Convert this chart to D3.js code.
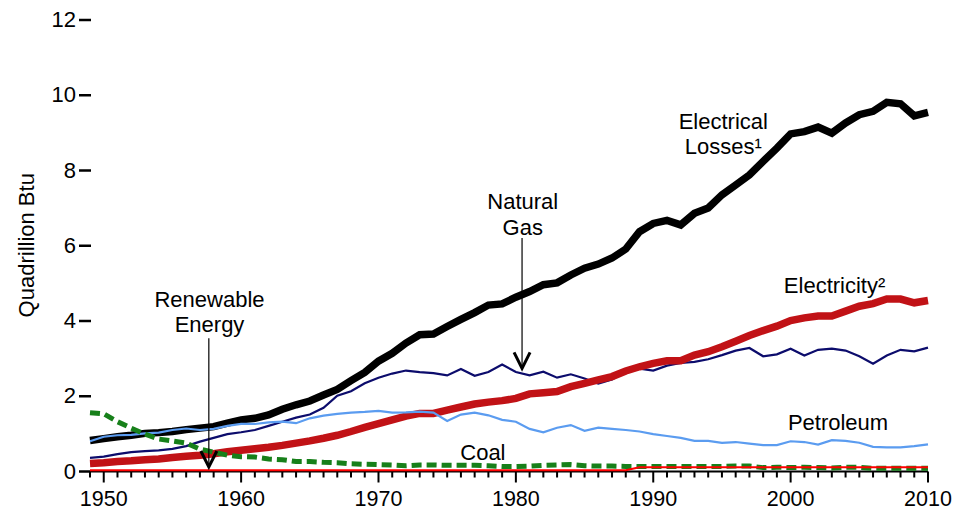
<!DOCTYPE html>
<html lang="en">
<head>
  <meta charset="UTF-8">
  <title>Commercial Sector Energy Consumption</title>
  <style>
    body {
      margin: 0;
      background: #fff;
      font-family: "Liberation Sans", Arial, sans-serif;
    }
    #chart svg {
      display: block;
    }
  </style>
</head>
<body>
  <div id="chart"></div>

  <script src="https://d3js.org/d3.v7.min.js"></script>
  <script>
    // Years 1949-2010
    const years = d3.range(1949, 2011);

    // Quadrillion Btu
    const electricalLosses = [
      0.81, 0.86, 0.91, 0.95, 1.00, 1.02, 1.05, 1.10, 1.14, 1.18,
      1.27, 1.36, 1.40, 1.49, 1.64, 1.76, 1.86, 2.02, 2.17, 2.40,
      2.62, 2.92, 3.13, 3.40, 3.62, 3.64, 3.84, 4.03, 4.21, 4.41,
      4.44, 4.62, 4.77, 4.95, 5.00, 5.21, 5.39, 5.50, 5.66, 5.90,
      6.36, 6.58, 6.66, 6.54, 6.85, 6.99, 7.34, 7.60, 7.87, 8.23,
      8.58, 8.96, 9.02, 9.14, 8.98, 9.25, 9.47, 9.56, 9.80, 9.76,
      9.44, 9.53
    ];
    const electricity = [
      0.20, 0.22, 0.25, 0.27, 0.30, 0.32, 0.36, 0.39, 0.42, 0.46,
      0.51, 0.55, 0.59, 0.63, 0.68, 0.74, 0.80, 0.87, 0.95, 1.05,
      1.16, 1.26, 1.36, 1.46, 1.53, 1.53, 1.62, 1.70, 1.78, 1.83,
      1.87, 1.93, 2.05, 2.08, 2.11, 2.24, 2.33, 2.42, 2.51, 2.66,
      2.77, 2.86, 2.93, 2.93, 3.08, 3.17, 3.30, 3.45, 3.60, 3.73,
      3.85, 4.00, 4.07, 4.12, 4.12, 4.25, 4.38, 4.45, 4.57, 4.57,
      4.47, 4.53
    ];
    const naturalGas = [
      0.35, 0.38, 0.45, 0.50, 0.53, 0.55, 0.59, 0.66, 0.78, 0.88,
      0.98, 1.03, 1.09, 1.20, 1.31, 1.42, 1.50, 1.68, 2.00, 2.12,
      2.33, 2.48, 2.59, 2.67, 2.63, 2.60, 2.54, 2.71, 2.53, 2.63,
      2.83, 2.63, 2.54, 2.64, 2.48, 2.57, 2.46, 2.32, 2.43, 2.65,
      2.72, 2.67, 2.80, 2.87, 2.90, 2.97, 3.08, 3.20, 3.27, 3.05,
      3.10, 3.25, 3.07, 3.22, 3.25, 3.20, 3.05, 2.85, 3.07, 3.22,
      3.18, 3.28
    ];
    const petroleum = [
      0.79, 0.91, 0.95, 0.96, 1.00, 1.02, 1.09, 1.13, 1.09, 1.12,
      1.20, 1.25, 1.25, 1.29, 1.31, 1.27, 1.40, 1.47, 1.52, 1.55,
      1.57, 1.60, 1.55, 1.56, 1.58, 1.55, 1.33, 1.50, 1.55, 1.48,
      1.36, 1.31, 1.12, 1.03, 1.15, 1.22, 1.07, 1.15, 1.12, 1.09,
      1.05, 0.98, 0.93, 0.88, 0.80, 0.80, 0.75, 0.77, 0.73, 0.69,
      0.69, 0.79, 0.77, 0.70, 0.82, 0.80, 0.75, 0.64, 0.63, 0.63,
      0.66, 0.71
    ];
    const coal = [
      1.55, 1.52, 1.31, 1.14, 0.98, 0.85, 0.80, 0.74, 0.58, 0.50,
      0.42, 0.38, 0.37, 0.32, 0.30, 0.25, 0.25, 0.23, 0.22, 0.19,
      0.18, 0.17, 0.16, 0.14, 0.16, 0.16, 0.15, 0.15, 0.15, 0.14,
      0.12, 0.12, 0.13, 0.15, 0.16, 0.17, 0.14, 0.13, 0.13, 0.12,
      0.12, 0.12, 0.12, 0.12, 0.12, 0.12, 0.12, 0.13, 0.13, 0.09,
      0.10, 0.09, 0.10, 0.09, 0.08, 0.10, 0.10, 0.07, 0.07, 0.07,
      0.07, 0.07
    ];
    const renewable = [
      0.02, 0.02, 0.02, 0.02, 0.02, 0.02, 0.02, 0.02, 0.02, 0.02,
      0.02, 0.02, 0.02, 0.02, 0.02, 0.02, 0.02, 0.02, 0.02, 0.02,
      0.02, 0.02, 0.02, 0.02, 0.02, 0.02, 0.02, 0.02, 0.02, 0.02,
      0.02, 0.02, 0.02, 0.02, 0.02, 0.02, 0.02, 0.02, 0.02, 0.02,
      0.10, 0.10, 0.10, 0.10, 0.10, 0.10, 0.10, 0.10, 0.10, 0.10,
      0.10, 0.10, 0.10, 0.10, 0.10, 0.10, 0.10, 0.10, 0.10, 0.10,
      0.10, 0.10
    ];

    const yTicks = [0, 2, 4, 6, 8, 10, 12];
    const xMajorTicks = [1950, 1960, 1970, 1980, 1990, 2000, 2010];

    // Label text; position given in data units (year, value)
    const labels = [
      { lines: ['Renewable', 'Energy'], year: 1957.7, value: 4.36 },
      { lines: ['Natural', 'Gas'], year: 1980.5, value: 6.96 },
      { lines: ['Electrical', 'Losses\u00b9'], year: 1995.1, value: 9.1 },
      { lines: ['Electricity\u00b2'], year: 2003.2, value: 4.72 },
      { lines: ['Petroleum'], year: 2003.45, value: 1.09 },
      { lines: ['Coal'], year: 1977.6, value: 0.29 }
    ];
    const arrows = [
      { year: 1957.65, from: 3.53, to: 0.08 },
      { year: 1980.45, from: 6.19, to: 2.7 }
    ];

    const width = 959;
    const height = 511;
    const margin = { top: 19.5, right: 31, bottom: 40, left: 90 };

    const svg = d3.select('#chart')
      .append('svg')
      .attr('width', width)
      .attr('height', height);

    const x = d3.scaleLinear()
      .domain([1949, 2010])
      .range([margin.left, width - margin.right]);

    const y = d3.scaleLinear()
      .domain([0, 12])
      .range([height - margin.bottom, margin.top]);

    const fontSize = 22;

    // y axis: dash ticks, no line
    const yAxis = svg.append('g')
      .attr('transform', `translate(${margin.left + 1}, 0)`)
      .call(d3.axisLeft(y).tickValues(yTicks).tickSize(12).tickPadding(3))
      .call(g => g.select('.domain').remove());
    yAxis.selectAll('.tick line')
      .attr('stroke', '#000')
      .attr('stroke-width', 2.5);
    yAxis.selectAll('.tick text')
      .attr('font-family', '"Liberation Sans", Arial, sans-serif')
      .attr('font-size', fontSize)
      .attr('fill', '#000');

    // x axis: minor ticks each year, longer at decades
    const xAxis = svg.append('g')
      .attr('transform', `translate(0, ${y(0) + 0.5})`);
    xAxis.append('line')
      .attr('x1', x(1949))
      .attr('x2', x(2010))
      .attr('stroke', '#000')
      .attr('stroke-width', 2);
    xAxis.selectAll('line.tick')
      .data(years)
      .join('line')
      .attr('class', 'tick')
      .attr('x1', d => x(d))
      .attr('x2', d => x(d))
      .attr('y1', 0)
      .attr('y2', d => xMajorTicks.includes(d) ? 11 : 6)
      .attr('stroke', '#000')
      .attr('stroke-width', 2);
    xAxis.selectAll('text')
      .data(xMajorTicks)
      .join('text')
      .attr('x', d => x(d))
      .attr('y', 34.5)
      .attr('text-anchor', 'middle')
      .attr('font-size', 21.5)
      .text(d => d);

    // y axis title
    svg.append('text')
      .attr('transform', `translate(34, ${y(6)}) rotate(-90)`)
      .attr('text-anchor', 'middle')
      .attr('font-size', fontSize)
      .text('Quadrillion Btu');

    const line = d3.line()
      .x((d, i) => x(years[i]))
      .y(d => y(d));

    const series = [
      { values: electricalLosses, color: '#000000', width: 7.5 },
      { values: naturalGas, color: '#0c0c6c', width: 2.2 },
      { values: electricity, color: '#c11216', width: 7.5 },
      { values: petroleum, color: '#5b9cf0', width: 2.2 },
      { values: coal, color: '#17801a', width: 5, dash: '10,5' },
      { values: renewable, color: '#ff0000', width: 2 }
    ];

    svg.selectAll('path.series')
      .data(series)
      .join('path')
      .attr('class', 'series')
      .attr('fill', 'none')
      .attr('stroke', d => d.color)
      .attr('stroke-width', d => d.width)
      .attr('stroke-dasharray', d => d.dash || null)
      .attr('stroke-linejoin', 'miter')
      .attr('d', d => line(d.values));

    // labels
    labels.forEach(l => {
      const t = svg.append('text')
        .attr('text-anchor', 'middle')
        .attr('font-size', fontSize)
        .attr('fill', '#000');
      l.lines.forEach((s, i) => {
        t.append('tspan')
          .attr('x', x(l.year))
          .attr('y', y(l.value) + i * 25.5)
          .text(s);
      });
    });

    // arrows with open chevron heads
    arrows.forEach(a => {
      const ax = x(a.year);
      svg.append('line')
        .attr('x1', ax)
        .attr('x2', ax)
        .attr('y1', y(a.from))
        .attr('y2', y(a.to) - 2)
        .attr('stroke', '#000')
        .attr('stroke-width', 1.2);
      svg.append('path')
        .attr('d', `M${ax - 8},${y(a.to) - 17}L${ax},${y(a.to) - 1}L${ax + 8},${y(a.to) - 17}`)
        .attr('fill', 'none')
        .attr('stroke', '#000')
        .attr('stroke-width', 3);
    });
  </script>
</body>
</html>
